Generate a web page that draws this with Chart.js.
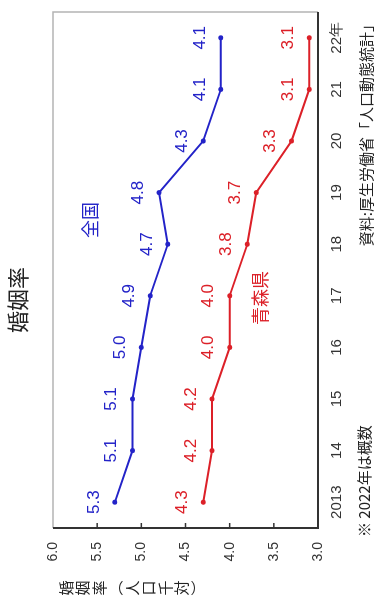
<!DOCTYPE html>
<html lang="ja">
<head>
    <meta charset="UTF-8">
    <title>婚姻率</title>
    <script src="https://cdn.jsdelivr.net/npm/chart.js"></script>
    <style>
        html, body { margin: 0; padding: 0; background: #fff; overflow: hidden; }
        #wrap {
            position: absolute; left: 0; top: 0;
            width: 599px; height: 378px;
            transform-origin: 0 0;
            transform: translate(0, 599px) rotate(-90deg);
        }
    </style>
</head>
<body>
    <div id="wrap"><canvas id="marriageChart" width="599" height="378"></canvas></div>

    <script>
        // data
        const years = ['2013', '14', '15', '16', '17', '18', '19', '20', '21', '22年'];
        const zenkoku = [5.3, 5.1, 5.1, 5.0, 4.9, 4.7, 4.8, 4.3, 4.1, 4.1];
        const aomori = [4.3, 4.2, 4.2, 4.0, 4.0, 3.8, 3.7, 3.3, 3.1, 3.1];
        const yTicks = [3.0, 3.5, 4.0, 4.5, 5.0, 5.5, 6.0];

        const BLUE = '#2323c8';
        const RED = '#dc2028';
        const JP = '"Noto Sans CJK JP", sans-serif';
        const SANS = '"Liberation Sans", sans-serif';

        // frame, inward ticks, labels and notes
        const decor = {
            id: 'decor',
            afterDatasetsDraw(chart) {
                const { ctx, chartArea: a } = chart;
                const yScale = chart.scales.y;
                ctx.save();

                // frame: light top/right, dark left/bottom
                ctx.lineWidth = 1.5;
                ctx.strokeStyle = '#b4b4b4';
                ctx.beginPath();
                ctx.moveTo(a.left, a.top); ctx.lineTo(a.right, a.top); ctx.lineTo(a.right, a.bottom);
                ctx.stroke();
                ctx.strokeStyle = '#333';
                ctx.lineWidth = 2;
                ctx.beginPath();
                ctx.moveTo(a.left, a.top); ctx.lineTo(a.left, a.bottom); ctx.lineTo(a.right, a.bottom);
                ctx.stroke();

                // inward tick marks on the value axis
                ctx.lineWidth = 1.5;
                yTicks.slice(1, -1).forEach(v => {
                    const py = yScale.getPixelForValue(v);
                    ctx.beginPath();
                    ctx.moveTo(a.left, py); ctx.lineTo(a.left + 5, py);
                    ctx.stroke();
                });

                // value labels above points
                ctx.font = '17px ' + SANS;
                ctx.textAlign = 'center';
                ctx.textBaseline = 'middle';
                chart.data.datasets.forEach((ds, i) => {
                    ctx.fillStyle = ds.borderColor;
                    chart.getDatasetMeta(i).data.forEach((pt, j) => {
                        ctx.fillText(ds.data[j].toFixed(1), pt.x, pt.y - 21);
                    });
                });

                // title
                ctx.fillStyle = '#222';
                ctx.font = '22px ' + JP;
                ctx.fillText('婚姻率', 299, 18);

                // series names
                ctx.font = '18px ' + JP;
                ctx.fillStyle = BLUE;
                ctx.fillText('全国', 379, 90);
                ctx.fillStyle = RED;
                ctx.fillText('青森県', 301, 260);

                // vertical axis title
                ctx.fillStyle = '#222';
                ctx.font = '15px ' + JP;
                const vchars = ['婚', '姻', '率', '︵', '人', '口', '千', '対', '︶'];
                vchars.forEach((c, k) => ctx.fillText(c, 11, 66 + k * 16.5));

                // notes
                ctx.font = '15px ' + JP;
                ctx.textAlign = 'left';
                ctx.fillText('※ 2022年は概数', 62, 364);
                ctx.textAlign = 'right';
                ctx.fillText('資料:厚生労働省「人口動態統計」', 582, 366);

                ctx.restore();
            }
        };

        const ctx = document.getElementById('marriageChart').getContext('2d');
        const marriageChart = new Chart(ctx, {
            type: 'line',
            data: {
                labels: years,
                datasets: [
                    {
                        label: '全国',
                        data: zenkoku,
                        borderColor: BLUE,
                        backgroundColor: BLUE,
                        borderWidth: 2,
                        pointRadius: 2.5,
                        pointBorderWidth: 0,
                        tension: 0
                    },
                    {
                        label: '青森県',
                        data: aomori,
                        borderColor: RED,
                        backgroundColor: RED,
                        borderWidth: 2,
                        pointRadius: 2.5,
                        pointBorderWidth: 0,
                        tension: 0
                    }
                ]
            },
            options: {
                responsive: false,
                animation: false,
                devicePixelRatio: 1,
                layout: { padding: { top: 53, right: 12, bottom: 0, left: 0 } },
                scales: {
                    x: {
                        offset: true,
                        grid: { display: false, drawTicks: false },
                        border: { display: false },
                        ticks: {
                            padding: 10,
                            maxRotation: 0,
                            autoSkip: false,
                            color: '#333',
                            font: { family: SANS, size: 15 }
                        },
                        afterFit(scale) { scale.height = 60; }
                    },
                    y: {
                        min: 3,
                        max: 6,
                        grid: { display: false, drawTicks: false },
                        border: { display: false },
                        ticks: {
                            stepSize: 0.5,
                            padding: 14,
                            color: '#333',
                            font: { family: SANS, size: 14 },
                            callback: v => v.toFixed(1)
                        },
                        afterFit(scale) { scale.width = 71; }
                    }
                },
                plugins: {
                    legend: { display: false },
                    tooltip: { enabled: false }
                }
            },
            plugins: [decor]
        });
    </script>
</body>
</html>
